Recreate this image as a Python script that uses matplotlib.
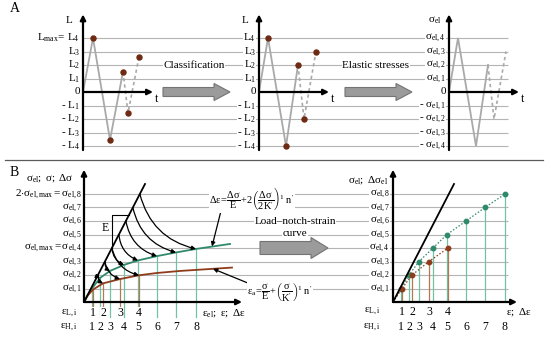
import matplotlib
matplotlib.use('Agg')
import matplotlib.pyplot as plt
from matplotlib.patches import FancyArrow

plt.rcParams['font.family'] = ['Liberation Serif', 'DejaVu Serif']
plt.rcParams['mathtext.fontset'] = 'custom'
plt.rcParams['mathtext.rm'] = 'Liberation Serif'
plt.rcParams['mathtext.it'] = 'Liberation Serif:italic'
plt.rcParams['mathtext.bf'] = 'Liberation Serif:bold'

# ------------------------------------------------------------------ data
# Panel A: load levels and load-time sequences
A_levels = [-4, -3, -2, -1, 1, 2, 3, 4]
raw_t_solid = [0, 10, 27, 40]
raw_L_solid = [0, 4, -3.55, 1.5]
raw_t_dash = [40, 45, 56]
raw_L_dash = [1.5, -1.55, 2.6]
cls_t_solid = [0, 9, 27, 39]
cls_L_solid = [0, 4, -4, 2]
cls_t_dash = [39, 45, 57]
cls_L_dash = [2, -2, 3]
L_labels = [r'$\mathrm{L_{max}\!=\,L_4}$', r'$\mathrm{L_3}$', r'$\mathrm{L_2}$', r'$\mathrm{L_1}$', '0',
            r'- $\mathrm{L_1}$', r'- $\mathrm{L_2}$', r'- $\mathrm{L_3}$', r'- $\mathrm{L_4}$']
L2_labels = [r'$\mathrm{L_4}$', r'$\mathrm{L_3}$', r'$\mathrm{L_2}$', r'$\mathrm{L_1}$', '0',
             r'- $\mathrm{L_1}$', r'- $\mathrm{L_2}$', r'- $\mathrm{L_3}$', r'- $\mathrm{L_4}$']
S_labels = [r'$\mathrm{\sigma_{el,4}}$', r'$\mathrm{\sigma_{el,3}}$', r'$\mathrm{\sigma_{el,2}}$',
            r'$\mathrm{\sigma_{el,1}}$', '0', r'- $\mathrm{\sigma_{el,1}}$', r'- $\mathrm{\sigma_{el,2}}$',
            r'- $\mathrm{\sigma_{el,3}}$', r'- $\mathrm{\sigma_{el,4}}$']
label_levels = [4, 3, 2, 1, 0, -1, -2, -3, -4]

# Panel B: stress levels, strains, curves
B_levels = [1, 2, 3, 4, 5, 6, 7, 8]
B_left_labels = [r'$\mathrm{\sigma_{el,1}}$', r'$\mathrm{\sigma_{el,2}}$', r'$\mathrm{\sigma_{el,3}}$',
                 r'$\mathrm{\sigma_{el,max}=\sigma_{el,4}}$', r'$\mathrm{\sigma_{el,5}}$',
                 r'$\mathrm{\sigma_{el,6}}$', r'$\mathrm{\sigma_{el,7}}$',
                 r'$\mathrm{2{\cdot}\sigma_{el,max}=\sigma_{el,8}}$']
B_right_labels = [r'$\mathrm{\sigma_{el,%d}}$' % k for k in B_levels]
eps_H = [8, 16, 26, 40, 54, 73, 92, 112]
eps_L = [9, 19, 36, 55]
sig_H = [1.0, 1.78, 2.3, 2.75, 3.08, 3.4, 3.67, 3.93]
sig_L = [0.92, 1.38, 1.7, 1.98]
green_eps = [0, 4, 8, 16, 26, 40, 54, 73, 92, 112, 146]
green_sig = [0, 0.55, 1.0, 1.78, 2.3, 2.75, 3.08, 3.4, 3.67, 3.93, 4.3]
brown_eps = [0, 4, 9, 19, 36, 55, 73, 96, 123, 148]
brown_sig = [0, 0.5, 0.92, 1.38, 1.7, 1.98, 2.15, 2.3, 2.43, 2.55]
elastic_eps = [0, 61]
elastic_sig = [0, 8.74]
E_bracket_sig = [4.0, 6.45]

# ------------------------------------------------------------------ styles
W, H = 550, 339
GRID = '#b4b4b4'
SIG = '#a9a9a9'
DOT = '#6e2a12'
GREEN = '#2f8a6c'
GREEN_V = '#72c2a4'
BROWN = '#8e3c1c'
BROWN_V = '#b07a55'
FS = 8

fig = plt.figure(figsize=(5.5, 3.39), dpi=100)


def box(x0, y0, x1, y1):
    return [x0 / W, 1 - y1 / H, (x1 - x0) / W, (y1 - y0) / H]


def axis_arrow(ax, x0, y0, x1, y1, lw=1.6):
    ax.annotate('', xy=(x1, y1), xytext=(x0, y0), annotation_clip=False,
                arrowprops=dict(arrowstyle='-|>', color='black', lw=lw,
                                mutation_scale=8, shrinkA=0, shrinkB=0))


# ------------------------------------------------------------------ backgrounds (grid lines)
A_ylim = ((92 - 155) / 13.5, (92 - 10) / 13.5)
bgA = fig.add_axes(box(0, 10, 550, 155))
bgA.set_xlim(0, 550)
bgA.set_ylim(*A_ylim)
bgA.axis('off')
bgA.hlines(A_levels, 83, 508, color=GRID, lw=0.8)

bgB = fig.add_axes(box(0, 167, 550, 302))
bgB.set_xlim(0, 550)
bgB.set_ylim(0, 10)
bgB.axis('off')
bgB.hlines(B_levels, 84, 508, color=GRID, lw=0.8)

# ------------------------------------------------------------------ panel A
panelsA = [(83, raw_t_solid, raw_L_solid, raw_t_dash, raw_L_dash, L_labels, 'L', True),
           (259, cls_t_solid, cls_L_solid, cls_t_dash, cls_L_dash, L2_labels, 'L', True),
           (449, cls_t_solid, cls_L_solid, cls_t_dash, cls_L_dash, S_labels,
            r'$\mathrm{\sigma_{el}}$', False)]
for x0, ts, Ls, td, Ld, labs, title, dots in panelsA:
    ax = fig.add_axes(box(x0, 10, x0 + 77, 155))
    ax.set_xlim(0, 77)
    ax.set_ylim(*A_ylim)
    ax.axis('off')
    ax.plot(ts, Ls, color=SIG, lw=1.3, solid_joinstyle='miter', zorder=2)
    ax.plot(td, Ld, color=SIG, lw=1.2, ls=(0, (2, 1.8)), zorder=2)
    if dots:
        ax.plot(ts[1:], Ls[1:], 'o', color=DOT, ms=3.6, zorder=4)
        ax.plot(td[1:], Ld[1:], 'o', color=DOT, ms=3.6, zorder=4)
    axis_arrow(ax, 0, -4.3, 0, 5.75)
    axis_arrow(ax, 0, 0, 70, 0)
    for lab, lv in zip(labs, label_levels):
        ax.text(-3, lv, lab, ha='right', va='center', fontsize=FS,
                bbox=dict(fc='white', ec='none', pad=0.3))
    ax.text(-14, 5.3, title, ha='center', va='center', fontsize=FS)
    ax.text(72, -0.55, 't', ha='left', va='center', fontsize=FS + 0.5)

# ------------------------------------------------------------------ panel B left
axL = fig.add_axes(box(84, 167, 254, 302))
axL.set_xlim(0, 170)
axL.set_ylim(0, 10)
axL.axis('off')
for e, s in zip(eps_H, sig_H):
    axL.plot([e, e], [-1.1, s], color=GREEN_V, lw=0.9, clip_on=False, zorder=2)
for e, s in zip(eps_L, sig_L):
    axL.plot([e, e], [-0.55, s], color=BROWN_V, lw=0.9, clip_on=False, zorder=2)
axL.plot(green_eps, green_sig, color=GREEN, lw=1.3, zorder=3)
axL.plot(brown_eps, brown_sig, color=BROWN, lw=1.3, zorder=3)
axL.plot(elastic_eps, elastic_sig, color='black', lw=1.3, zorder=4)
slope = elastic_eps[1] / elastic_sig[1]
axL.plot([E_bracket_sig[0] * slope, E_bracket_sig[0] * slope, E_bracket_sig[1] * slope],
         [E_bracket_sig[0], E_bracket_sig[1], E_bracket_sig[1]], color='black', lw=0.8)
axL.text(21, 5.45, 'E', ha='center', va='center', fontsize=FS + 0.5)
for lvl, e, s in zip(B_levels, eps_H, sig_H):
    if lvl < 2:
        continue
    axL.annotate('', xy=(e, s), xytext=(lvl * slope, lvl),
                 arrowprops=dict(arrowstyle='-|>', color='black', lw=0.9, mutation_scale=6,
                                 shrinkA=0, shrinkB=0, connectionstyle='arc3,rad=0.3'), zorder=5)
for lvl, e, s in zip(B_levels, eps_L, sig_L):
    if lvl < 2:
        continue
    axL.annotate('', xy=(e, s), xytext=(lvl * slope, lvl),
                 arrowprops=dict(arrowstyle='-|>', color='black', lw=0.9, mutation_scale=6,
                                 shrinkA=0, shrinkB=0, connectionstyle='arc3,rad=0.3'), zorder=5)
axis_arrow(axL, 0, 0, 0, 9.8)
axis_arrow(axL, 0, 0, 158, 0)
for lab, lv in zip(B_left_labels, B_levels):
    axL.text(-2, lv, lab, ha='right', va='center', fontsize=FS,
             bbox=dict(fc='white', ec='none', pad=0.3))
axL.text(-34, 9.2, r'$\mathrm{\sigma_{el};\ \sigma;\ \Delta\sigma}$', ha='center', va='center', fontsize=FS)
axL.text(-15, -0.8, r'$\mathrm{\varepsilon_{L,i}}$', ha='center', va='center', fontsize=FS)
axL.text(-15, -1.85, r'$\mathrm{\varepsilon_{H,i}}$', ha='center', va='center', fontsize=FS)
for i, e in enumerate(eps_L):
    axL.text(e, -0.85, str(i + 1), ha='center', va='center', fontsize=FS + 0.5,
             bbox=dict(fc='white', ec='none', pad=0.2))
for i, e in enumerate(eps_H):
    axL.text(e, -1.85, str(i + 1), ha='center', va='center', fontsize=FS + 0.5,
             bbox=dict(fc='white', ec='none', pad=0.2))
axL.text(118, -0.8, r'$\mathrm{\varepsilon_{el};\ \varepsilon;\ \Delta\varepsilon}$',
         ha='left', va='center', fontsize=FS)
axL.annotate('', xy=(128, 4.12), xytext=(137, 6.75), annotation_clip=False,
             arrowprops=dict(arrowstyle='-|>', color='black', lw=0.9, mutation_scale=6,
                             shrinkA=0, shrinkB=0))
axL.annotate('', xy=(129, 2.46), xytext=(169, 1.25), annotation_clip=False,
             arrowprops=dict(arrowstyle='-|>', color='black', lw=0.9, mutation_scale=6,
                             shrinkA=0, shrinkB=0))

# ------------------------------------------------------------------ panel B right
axR = fig.add_axes(box(393, 167, 523, 302))
axR.set_xlim(0, 130)
axR.set_ylim(0, 10)
axR.axis('off')
for e, lv in zip(eps_H, B_levels):
    axR.plot([e, e], [0, lv], color=GREEN_V, lw=0.9, zorder=2)
for e, lv in zip(eps_L, B_levels):
    axR.plot([e, e], [0, lv], color=BROWN_V, lw=0.9, zorder=2)
axR.plot([0] + eps_H, [0] + B_levels, color=GREEN, lw=0.9, ls=(0, (1.2, 1.5)), zorder=3)
axR.plot([0] + eps_L, [0] + B_levels[:len(eps_L)], color=BROWN, lw=0.9, ls=(0, (1.2, 1.5)), zorder=3)
axR.plot(eps_H, B_levels, 'o', color=GREEN, ms=3.2, zorder=4)
axR.plot(eps_L, B_levels[:len(eps_L)], 'o', color=BROWN, ms=3.2, zorder=4)
axR.plot(elastic_eps, elastic_sig, color='black', lw=1.3, zorder=4)
axis_arrow(axR, 0, 0, 0, 9.8)
axis_arrow(axR, 0, 0, 124, 0)
for lab, lv in zip(B_right_labels, B_levels):
    axR.text(-3, lv, lab, ha='right', va='center', fontsize=FS,
             bbox=dict(fc='white', ec='none', pad=0.3))
axR.text(-25, 9.0, r'$\mathrm{\sigma_{el};\ \Delta\sigma_{el}}$', ha='center', va='center', fontsize=FS)
axR.text(-21, -0.7, r'$\mathrm{\varepsilon_{L,i}}$', ha='center', va='center', fontsize=FS)
axR.text(-21, -1.85, r'$\mathrm{\varepsilon_{H,i}}$', ha='center', va='center', fontsize=FS)
for i, e in enumerate(eps_L):
    axR.text(e, -0.75, str(i + 1), ha='center', va='center', fontsize=FS + 0.5)
for i, e in enumerate(eps_H):
    axR.text(e, -1.85, str(i + 1), ha='center', va='center', fontsize=FS + 0.5)
axR.text(113, -0.72, r'$\mathrm{\varepsilon;\ \Delta\varepsilon}$', ha='left', va='center', fontsize=FS)

# ------------------------------------------------------------------ overlay (layout elements)
ov = fig.add_axes([0, 0, 1, 1])
ov.set_xlim(0, W)
ov.set_ylim(H, 0)
ov.axis('off')
ov.plot([5, 543], [160, 160], color='#5a5a5a', lw=0.9)
ov.text(15, 9, 'A', ha='center', va='center', fontsize=10)
ov.text(14, 172, 'B', ha='center', va='center', fontsize=10)
for x0 in (163, 345):
    ov.add_patch(FancyArrow(x0, 92, 67, 0, width=9, head_width=17, head_length=16,
                            length_includes_head=True, fc='#9b9b9b', ec='#737373', lw=0.8))
ov.add_patch(FancyArrow(260, 248, 68, 0, width=13, head_width=21, head_length=17,
                        length_includes_head=True, fc='#9b9b9b', ec='#737373', lw=0.8))
ov.text(194, 65, 'Classification', ha='center', va='center', fontsize=FS,
        bbox=dict(fc='white', ec='none', pad=0.5))
ov.text(376, 65, 'Elastic stresses', ha='center', va='center', fontsize=FS,
        bbox=dict(fc='white', ec='none', pad=0.5))
ov.text(295, 221, 'Load–notch-strain', ha='center', va='center', fontsize=FS,
        bbox=dict(fc='white', ec='none', pad=0.5))
ov.text(295, 234, 'curve', ha='center', va='center', fontsize=FS,
        bbox=dict(fc='white', ec='none', pad=0.5))
ov.text(252, 199,
        r'$\mathrm{\Delta\varepsilon\!=\!\dfrac{\Delta\sigma}{E}\!+\!2\left(\dfrac{\Delta\sigma}{2K^{\prime}}\right)^{\!1}\ n^{\prime}}$',
        ha='center', va='center', fontsize=7.5, bbox=dict(fc='white', ec='none', pad=0.5))
ov.text(280, 292,
        r'$\mathrm{\varepsilon_a\!=\!\dfrac{\sigma}{E}\!+\!\left(\dfrac{\sigma}{K^{\prime}}\right)^{\!1}\ n^{\prime}}$',
        ha='center', va='center', fontsize=7.5, bbox=dict(fc='white', ec='none', pad=0.5))

fig.savefig('out.png', dpi=100)
